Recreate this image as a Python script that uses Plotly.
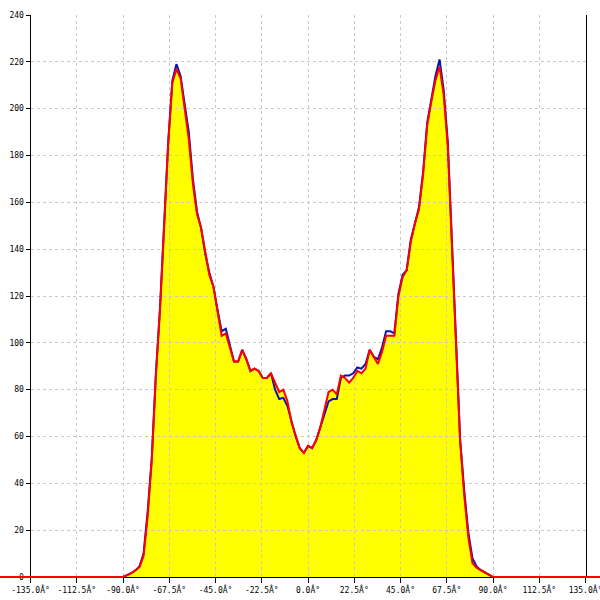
import plotly.graph_objects as go

# Angle (degrees) and the two series
angle = [-180, -90, -88, -86, -84, -82, -80, -78, -76, -74, -72, -70, -68, -66, -64, -62,
         -60, -58, -56, -54, -52, -50, -48, -46, -44, -42, -40, -38, -36, -34, -32, -30,
         -28, -26, -24, -22, -20, -18, -16, -14, -12, -10, -8, -6, -4, -2, 0, 2, 4, 6, 8,
         10, 12, 14, 16, 18, 20, 22, 24, 26, 28, 30, 32, 34, 36, 38, 40, 42, 44, 46, 48,
         50, 52, 54, 56, 58, 60, 62, 64, 66, 68, 70, 72, 74, 76, 78, 80, 82, 84, 86, 88,
         90, 180]

red = [0, 0, 0.8, 1.6, 2.8, 4.2, 9, 26, 50, 86, 114, 152, 185, 211, 217, 213,
       199, 187, 168, 155, 149, 138, 129, 124, 113, 103, 104, 98, 92, 92, 97, 93,
       88, 89, 88, 85, 85, 87, 83, 79, 80, 75, 66, 60, 55, 53, 56, 55, 58.5, 64, 72,
       79, 80, 78, 86, 85, 83, 85, 88, 87, 89, 97, 94, 91, 96, 103, 103, 103, 120, 128, 131,
       143, 151, 157, 172, 193, 203, 212, 218, 206, 184, 141, 102, 58, 35, 17, 6, 4, 2.9, 2, 1,
       0, 0]

blue = [0, 0, 0.8, 1.6, 2.8, 4.5, 10, 28, 51, 87, 115, 152, 186, 212, 219, 214,
        201, 190, 170, 156, 149, 138, 130, 124, 114, 105, 106, 99, 92, 92, 97, 93,
        88, 89, 88, 85, 85, 87, 80, 76, 76.5, 73, 66, 60, 55, 53, 56, 55, 58.5, 64, 70,
        75, 76, 76, 85, 86, 86, 87, 89.5, 89, 91, 97, 94, 93, 98, 105, 105, 104, 121, 129, 131,
        144, 151, 158, 173, 194, 204, 214, 221, 208, 186, 142, 103, 59, 37, 19, 8, 4.5, 3, 2, 1,
        0, 0]

tick_vals = [-135, -112.5, -90, -67.5, -45, -22.5, 0, 22.5, 45, 67.5, 90, 112.5, 135]
tick_text = ["-135.0Â°", "-112.5Â°", "-90.0Â°", "-67.5Â°", "-45.0Â°", "-22.5Â°", "0.0Â°",
             "22.5Â°", "45.0Â°", "67.5Â°", "90.0Â°", "112.5Â°", "135.0Â°"]
y_ticks = [0, 20, 40, 60, 80, 100, 120, 140, 160, 180, 200, 220, 240]

W, H = 600, 600
left_px, right_px, top_px, bottom_px = 30.5, 585.5, 15, 577
kx = (right_px - left_px) / 270.0
ky = (bottom_px - top_px) / 240.0
xdom = [left_px / W, right_px / W]
ydom = [(H - bottom_px) / H, (H - top_px) / H]
full_x = [-135 - left_px / kx, 135 + (W - right_px) / kx]
full_y = [0 - (H - bottom_px) / ky, 240 + top_px / ky]

fig = go.Figure()

# Subplot 1: yellow fill
fig.add_trace(go.Scatter(x=angle, y=red, mode="lines", fill="tozeroy",
                         fillcolor="#FFFF00", line=dict(width=0, color="#FFFF00"),
                         xaxis="x", yaxis="y", hoverinfo="skip"))
# Subplot 2: axes + grid only (empty)
fig.add_trace(go.Scatter(x=[], y=[], mode="lines", xaxis="x2", yaxis="y2", hoverinfo="skip"))
# Subplot 3: the lines (unclipped across the page)
fig.add_trace(go.Scatter(x=angle, y=blue, mode="lines",
                         line=dict(color="#1010B0", width=2),
                         xaxis="x3", yaxis="y3"))
fig.add_trace(go.Scatter(x=angle, y=red, mode="lines",
                         line=dict(color="#FF0000", width=2),
                         xaxis="x3", yaxis="y3"))

tick_font = dict(family="DejaVu Sans Mono", size=8, color="black")

fig.update_layout(
    width=W, height=H,
    margin=dict(l=0, r=0, t=0, b=0),
    paper_bgcolor="white",
    plot_bgcolor="rgba(0,0,0,0)",
    showlegend=False,
    xaxis=dict(domain=xdom, range=[-135, 135], visible=False, anchor="y", fixedrange=True),
    yaxis=dict(domain=ydom, range=[0, 240], visible=False, anchor="x", fixedrange=True),
    xaxis2=dict(domain=xdom, range=[-135, 135], anchor="y2",
                tickmode="array", tickvals=tick_vals, ticktext=tick_text,
                ticks="outside", ticklen=5, tickcolor="black", tickwidth=1,
                showline=True, linecolor="black", linewidth=1,
                showgrid=True, gridcolor="#C8C8C8", griddash="3px,3px", gridwidth=1,
                zeroline=False, tickfont=tick_font, automargin=False,
                ticklabeloverflow="allow"),
    yaxis2=dict(domain=ydom, range=[0, 240], anchor="x2",
                tickmode="array", tickvals=y_ticks,
                ticks="outside", ticklen=4, tickcolor="black", tickwidth=1,
                showline=True, linecolor="black", linewidth=1, mirror=True,
                showgrid=True, gridcolor="#C8C8C8", griddash="3px,3px", gridwidth=1,
                zeroline=False, tickfont=tick_font, automargin=False,
                ticklabeloverflow="allow"),
    xaxis3=dict(domain=[0, 1], range=full_x, visible=False, anchor="y3", fixedrange=True),
    yaxis3=dict(domain=[0, 1], range=full_y, visible=False, anchor="x3", fixedrange=True),
)

fig.write_html("out.html", config={"displayModeBar": False},
               post_script="document.body.style.margin='0';document.body.style.padding='0';")
